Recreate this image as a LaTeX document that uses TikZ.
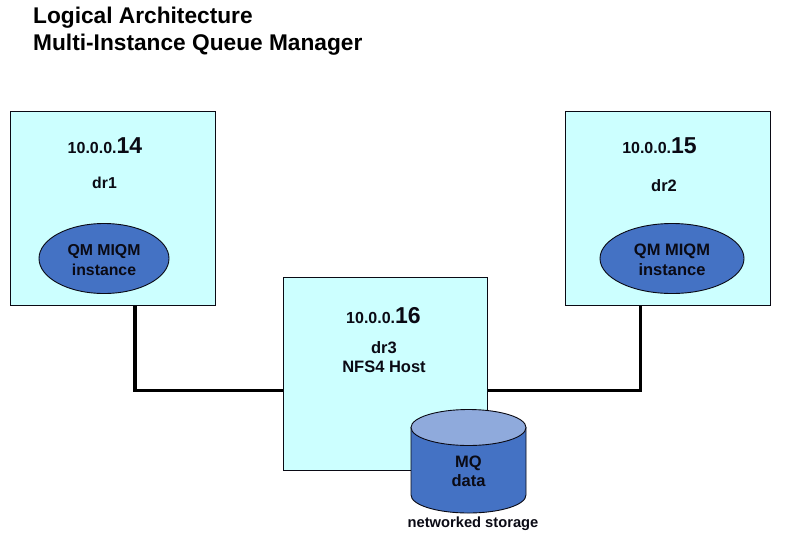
\documentclass[tikz,border=0pt]{standalone}
\usepackage{fontspec}
\setmainfont{Liberation Sans}
\usetikzlibrary{shapes.geometric}
\definecolor{hostfill}{HTML}{CCFFFF}
\definecolor{qmblue}{HTML}{4472C4}
\definecolor{toplight}{HTML}{8FAADC}
\definecolor{ink}{HTML}{0A0A14}
\tikzset{
  hostbox/.style={draw=ink,line width=0.9pt,fill=hostfill,minimum width=205pt,minimum height=194pt,inner sep=0pt,anchor=north west},
  qmell/.style={ellipse,draw=ink,line width=0.9pt,fill=qmblue,inner sep=0pt},
  wire/.style={line width=3.8pt,draw=black,line cap=butt},
  lab/.style={inner sep=0pt,align=center,font=\fontsize{16.5}{19}\bfseries\selectfont,text=ink},
  labs/.style={inner sep=0pt,align=center,font=\fontsize{15.8}{19.5}\bfseries\selectfont,text=ink},
  iplab/.style={inner sep=0pt,font=\fontsize{16}{20}\bfseries\selectfont,text=ink},
  cyl/.style={draw=ink,line width=0.9pt}
}
\newcommand{\bigoct}[1]{{\fontsize{23}{24}\bfseries\selectfont #1}}
\begin{document}
\begin{tikzpicture}[x=1pt,y=-1pt]
\useasboundingbox (0,0) rectangle (787,547);
\fill[white] (0,0) rectangle (787,547);
\node[inner sep=0pt,anchor=north west,align=left,font=\fontsize{22.7}{27}\bfseries\selectfont,text=black] (title) at (33,7) {Logical Architecture\\Multi-Instance Queue Manager};
\node[hostbox] (dr1) at (10.2,111) {};
\node[hostbox] (dr2) at (565,111) {};
\node[hostbox,minimum height=193pt,minimum width=204pt] (dr3) at (283,277) {};
\draw[wire] ([xshift=22pt]dr1.south) |- ([yshift=-16.5pt]dr3.west);
\draw[wire] ([xshift=-27.5pt]dr2.south) |- ([yshift=-16.5pt]dr3.east);
\node[iplab] (ip1) at (105,146) {10.0.0.\bigoct{14}};
\node[iplab] (ip2) at (659.5,146) {10.0.0.\bigoct{15}};
\node[iplab] (ip3) at (383.5,316) {10.0.0.\bigoct{16}};
\node[labs] (n1) at (104.5,183) {dr1};
\node[lab] (n2) at (664,186) {dr2};
\node[lab] (n3) at (384,357.5) {dr3\\NFS4 Host};
\node[qmell,minimum width=130pt,minimum height=70pt] (qm1) at (104,258.5) {};
\node[qmell,minimum width=144pt,minimum height=70pt] (qm2) at (672,258.5) {};
\node[labs] (qt1) at ([yshift=-1.5pt]qm1.center) {QM MIQM\\instance};
\node[lab,font=\fontsize{16.5}{19.5}\bfseries\selectfont] (qt2) at ([yshift=-1.5pt]qm2.center) {QM MIQM\\instance};
\path[cyl,fill=qmblue] (411,427.5) -- (411,495) arc[start angle=180,end angle=0,x radius=57.5,y radius=18] -- (526,427.5) -- cycle;
\path[cyl,fill=toplight] (468.5,427.5) ellipse[x radius=57.5,y radius=18];
\node[lab] (mq) at (468.5,471) {MQ\\data};
\node[inner sep=0pt,font=\fontsize{14.7}{18}\bfseries\selectfont,text=ink] (st) at (473,524) {networked storage};
\end{tikzpicture}
\end{document}
